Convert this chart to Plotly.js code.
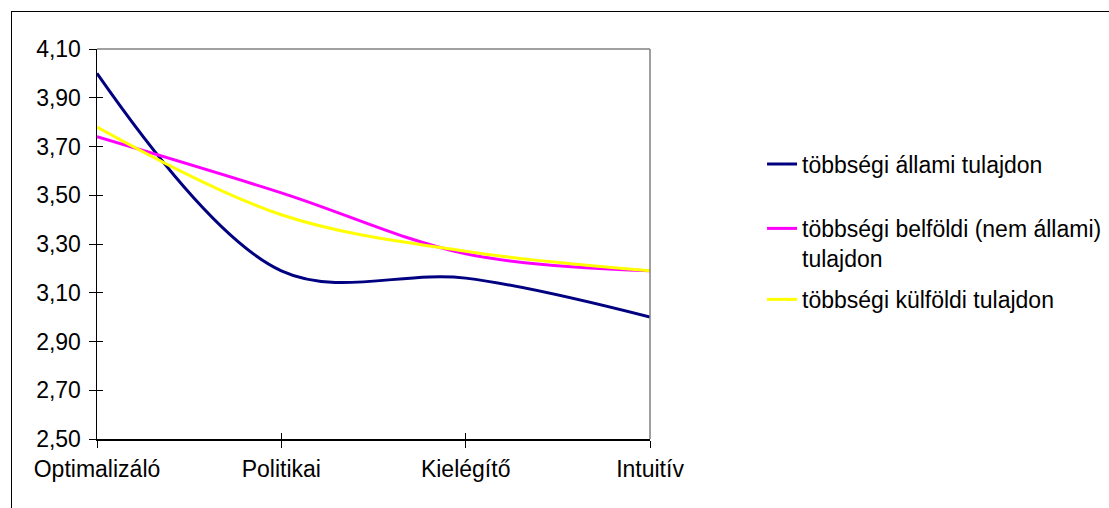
<!DOCTYPE html>
<html>
<head>
<meta charset="utf-8">
<script src="https://cdn.plot.ly/plotly-3.0.1.min.js"></script>
<style>
  html, body { margin: 0; padding: 0; background: #fff; }
  #chart { width: 1109px; height: 508px; position: relative; }
  #frame { position: absolute; left: 11px; top: 11px; width: 1200px; height: 600px;
           border-left: 1.5px solid #000; border-top: 1.5px solid #000; pointer-events: none; }
  #wrap { position: relative; width: 1109px; height: 508px; overflow: hidden; }
</style>
</head>
<body>
<div id="wrap">
  <div id="chart"></div>
  <div id="frame"></div>
</div>
<script>
const categories = ['Optimalizáló', 'Politikai', 'Kielégítő', 'Intuitív'];
const allami   = [4.00, 3.19, 3.16, 3.00];
const belfoldi = [3.74, 3.51, 3.26, 3.19];
const kulfoldi = [3.78, 3.42, 3.27, 3.19];
const seriesNames = ['többségi állami tulajdon', 'többségi belföldi (nem állami)<br>tulajdon', 'többségi külföldi tulajdon'];
const yTicks = [2.5, 2.7, 2.9, 3.1, 3.3, 3.5, 3.7, 3.9, 4.1];

const FONT = { family: 'Liberation Sans, Arial, sans-serif', size: 23, color: '#000' };

function tr(y, name, color, leg) {
  return {
    x: categories, y: y, name: name, type: 'scatter', mode: 'lines',
    line: { color: color, width: 3, shape: 'spline', smoothing: 1 },
    legend: leg, hoverinfo: 'skip'
  };
}
const data = [
  tr(allami, seriesNames[0], '#000080', 'legend'),
  tr(belfoldi, seriesNames[1], '#FF00FF', 'legend2'),
  tr(kulfoldi, seriesNames[2], '#FFFF00', 'legend3')
];
// inside half of the cross ticks
data.push({ x: categories, y: allami, xaxis: 'x2', yaxis: 'y2', mode: 'none', type: 'scatter', showlegend: false, hoverinfo: 'skip' });

function leg(y) {
  return { x: 1.2026, y: y, xanchor: 'left', yanchor: 'top', bgcolor: 'rgba(0,0,0,0)',
           borderwidth: 0, font: FONT, valign: 'top' };
}

const layout = {
  width: 1109, height: 508,
  margin: { l: 97, r: 459, t: 49, b: 69, pad: 0, autoexpand: false },
  paper_bgcolor: '#fff', plot_bgcolor: '#fff',
  font: FONT,
  separators: ',.',
  showlegend: true,
  legend: leg(0.76),
  legend2: leg(0.595),
  legend3: leg(0.413),
  xaxis: {
    type: 'category', range: [0, 3], showgrid: false, zeroline: false,
    showline: true, linecolor: '#000', linewidth: 1.5,
    ticks: 'outside', ticklen: 7, tickcolor: '#000', tickwidth: 1,
    tickfont: FONT, ticklabelstandoff: 2, fixedrange: true, automargin: false
  },
  yaxis: {
    range: [2.5, 4.1], tickvals: yTicks, tickformat: '.2f',
    showgrid: false, zeroline: false,
    showline: true, linecolor: '#000', linewidth: 1.5,
    ticks: 'outside', ticklen: 7, tickcolor: '#000', tickwidth: 1,
    tickfont: FONT, ticklabelstandoff: 3, fixedrange: true, automargin: false
  },
  xaxis2: {
    type: 'category', range: [0, 3], overlaying: 'x', anchor: 'y',
    showgrid: false, zeroline: false, showline: false, showticklabels: false,
    ticks: 'inside', ticklen: 6, tickcolor: '#000', tickwidth: 1, fixedrange: true
  },
  yaxis2: {
    range: [2.5, 4.1], tickvals: yTicks, overlaying: 'y', anchor: 'x',
    showgrid: false, zeroline: false, showline: false, showticklabels: false,
    ticks: 'inside', ticklen: 6, tickcolor: '#000', tickwidth: 1, fixedrange: true
  },
  shapes: [
    { type: 'line', xref: 'paper', yref: 'paper', x0: 0, x1: 1, y0: 1, y1: 1, line: { color: '#808080', width: 1.5 } },
    { type: 'line', xref: 'paper', yref: 'paper', x0: 1, x1: 1, y0: 0, y1: 1, line: { color: '#808080', width: 1.5 } }
  ]
};

Plotly.newPlot('chart', data, layout, { displayModeBar: false, staticPlot: true });
</script>
</body>
</html>
